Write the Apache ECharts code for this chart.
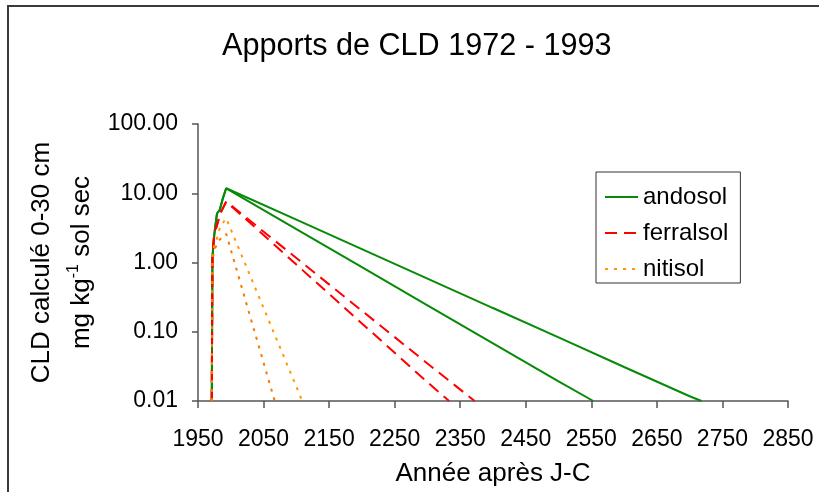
<!DOCTYPE html>
<html><head><meta charset="utf-8">
<script src="https://cdn.jsdelivr.net/npm/echarts@6/dist/echarts.min.js"></script>
<style>html,body{margin:0;padding:0;background:#fff}#c{width:819px;height:492px}</style>
</head><body><div id="c"></div>
<script>
// Data
const titleText = 'Apports de CLD 1972 - 1993';
const xName = 'Année après J-C';
const seriesNames = ['andosol', 'ferralsol', 'nitisol'];

const andosolAYears  = [1971, 1972, 1975, 1977, 1979, 1983, 1988, 1993, 2100, 2200, 2300, 2400, 2500, 2553];
const andosolAValues = [0.01, 1.2, 2.6, 3.7, 5.1, 5.7, 8.5, 11.8, 3.04, 0.857, 0.241, 0.068, 0.0192, 0.01];
const andosolBYears  = [1971, 1972, 1975, 1977, 1979, 1983, 1988, 1993, 2100, 2200, 2300, 2400, 2500, 2600, 2700, 2718];
const andosolBValues = [0.01, 1.2, 2.6, 3.7, 5.1, 5.7, 8.5, 11.8, 4.15, 1.56, 0.586, 0.22, 0.083, 0.031, 0.0117, 0.01];

const ferralsolAYears  = [1971, 1972, 1975, 1978, 1984, 1993, 2100, 2200, 2300, 2333];
const ferralsolAValues = [0.01, 1.1, 2.9, 3.2, 5.1, 7.6, 0.935, 0.132, 0.0187, 0.01];
const ferralsolBYears  = [1971, 1972, 1975, 1978, 1984, 1993, 2100, 2200, 2300, 2372];
const ferralsolBValues = [0.01, 1.1, 2.9, 3.2, 5.1, 7.6, 1.16, 0.201, 0.0348, 0.01];

const nitisolAYears  = [1971, 1972, 1975, 1980, 1984, 1993, 2025, 2050, 2075, 2100, 2109];
const nitisolAValues = [0.01, 1.3, 1.8, 2.4, 3.3, 4.35, 0.817, 0.221, 0.0597, 0.0161, 0.01];
const nitisolBYears  = [1971, 1972, 1976, 1982, 1993, 2010, 2030, 2050, 2067];
const nitisolBValues = [0.01, 1.1, 1.6, 2.1, 2.6, 0.726, 0.161, 0.0359, 0.01];

const xMin = 1950, xMax = 2850, xStep = 100;
const yMin = 0.01, yMax = 100;

function pairs(xs, ys) { return xs.map((x, i) => [x, ys[i]]); }

const font = 'Liberation Sans, Arial, sans-serif';
const green = '#078a07', red = '#ff0000', orange = '#ff9900', orange2 = '#f57a00';

function mk(name, xs, ys, color, type, width) {
  return {
    name: name, type: 'line', data: pairs(xs, ys), symbol: 'none', showSymbol: false,
    clip: true, silent: true,
    lineStyle: { color: color, width: width, type: type },
    itemStyle: { color: color }
  };
}

const chart = echarts.init(document.getElementById('c'), null, { renderer: 'canvas' });
chart.setOption({
  animation: false,
  backgroundColor: '#ffffff',
  textStyle: { fontFamily: font },
  title: {
    text: titleText, left: 222, top: 31, padding: 0,
    textStyle: { fontFamily: font, fontSize: 30.6, fontWeight: 'normal', color: '#000' }
  },
  graphic: [{
    type: 'rect', silent: true, z: -1,
    shape: { x: 8, y: 6, width: 900, height: 600 },
    style: { fill: 'none', stroke: '#3a3a3a', lineWidth: 2 }
  }],
  legend: {
    data: seriesNames,
    left: 596, top: 172,
    orient: 'vertical',
    itemWidth: 33, itemHeight: 14, itemGap: 12,
    padding: [13, 12, 2, 8],
    borderColor: '#333', borderWidth: 1,
    itemStyle: { opacity: 0, borderWidth: 0 },
    textStyle: { fontFamily: font, fontSize: 24, color: '#000' },
    selectedMode: false
  },
  grid: { left: 198, top: 124, width: 590, height: 277, containLabel: false },
  xAxis: {
    type: 'value', min: xMin, max: xMax, interval: xStep,
    name: xName, nameLocation: 'middle', nameGap: 60, nameMoveOverlap: false,
    nameTextStyle: { fontFamily: font, fontSize: 26, color: '#000' },
    axisLine: { show: true, onZero: false, lineStyle: { color: '#555', width: 1.5 } },
    axisTick: { show: true, inside: false, length: 7, lineStyle: { color: '#555', width: 1.5 } },
    axisLabel: { fontFamily: font, fontSize: 23, color: '#000', margin: 27, showMinLabel: true, showMaxLabel: true,
      formatter: v => String(Math.round(v)) },
    splitLine: { show: false }
  },
  yAxis: {
    type: 'log', logBase: 10, min: yMin, max: yMax,
    name: '{a|CLD calculé 0-30 cm}\n{a|mg kg}{s|-1}{a| sol sec}',
    nameLocation: 'middle', nameGap: 96, nameRotate: 90, nameMoveOverlap: false,
    nameTextStyle: {
      fontFamily: font, fontSize: 26, color: '#000', lineHeight: 40,
      rich: {
        a: { fontFamily: font, fontSize: 26, color: '#000', lineHeight: 40 },
        s: { fontFamily: font, fontSize: 16, color: '#000', verticalAlign: 'top', padding: [4, 0, 0, 0] }
      }
    },
    axisLine: { show: true, lineStyle: { color: '#555', width: 1.5 } },
    axisTick: { show: true, inside: false, length: 6, lineStyle: { color: '#555', width: 1.5 } },
    axisLabel: { fontFamily: font, fontSize: 23, color: '#000', margin: 20, formatter: v => Number(v).toFixed(2) },
    splitLine: { show: false }
  },
  series: [
    mk('andosol', andosolAYears, andosolAValues, green, 'solid', 2),
    mk('andosol', andosolBYears, andosolBValues, green, 'solid', 2),
    mk('ferralsol', ferralsolAYears, ferralsolAValues, red, [12, 7], 2),
    mk('ferralsol', ferralsolBYears, ferralsolBValues, red, [12, 7], 2),
    mk('nitisol', nitisolAYears, nitisolAValues, orange, [3, 6], 2),
    mk('nitisol', nitisolBYears, nitisolBValues, orange2, [3, 6], 2)
  ]
});
</script>
</body></html>
